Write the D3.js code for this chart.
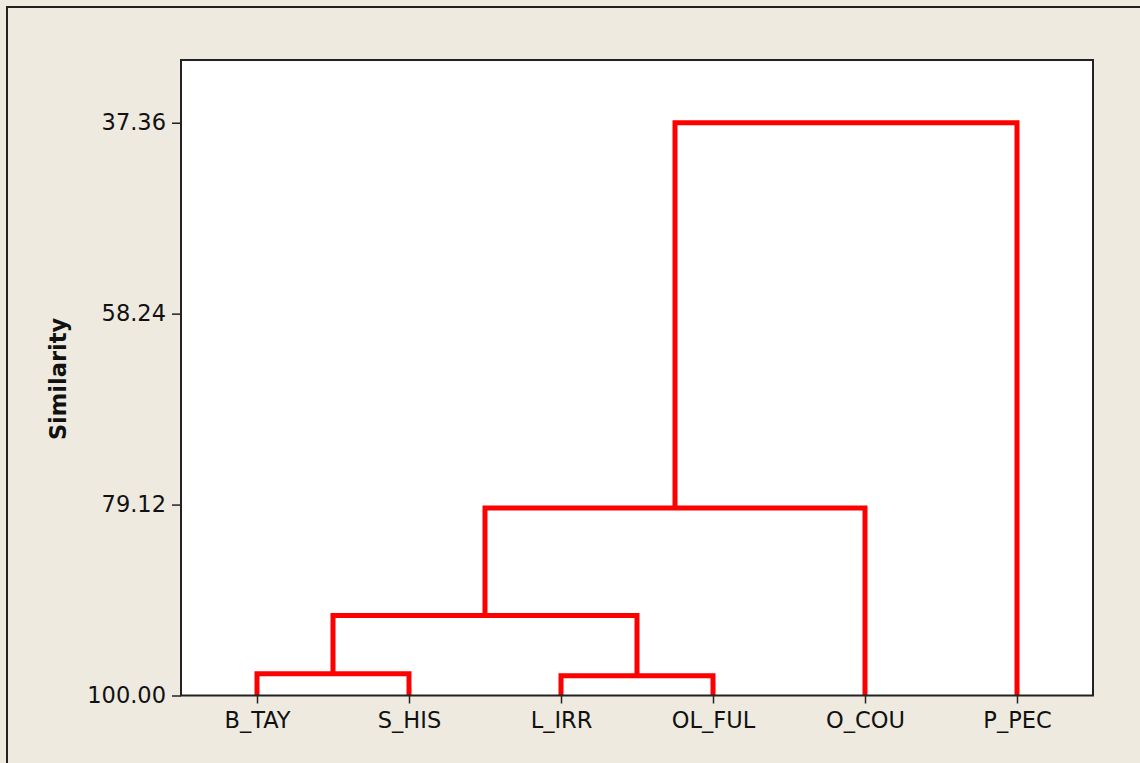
<!DOCTYPE html>
<html>
<head>
<meta charset="utf-8">
<script src="https://cdn.jsdelivr.net/npm/d3@7"></script>
<style>
  html, body { margin: 0; padding: 0; background: #eeeae0; }
  svg { display: block; }
  text { font-family: "DejaVu Sans", sans-serif; fill: #111; }
</style>
</head>
<body>
<svg width="1140" height="763"></svg>
<script>
// leaves, left to right
var leaves = ["B_TAY", "S_HIS", "L_IRR", "OL_FUL", "O_COU", "P_PEC"];
// merges: [cluster a, cluster b, similarity]; new clusters get ids 6, 7, ...
var merges = [
  [0, 1, 97.63],
  [2, 3, 97.85],
  [6, 7, 91.25],
  [8, 4, 79.5],
  [9, 5, 37.36]
];
var yTicks = [37.36, 58.24, 79.12, 100.00];

var svg = d3.select("svg");
var width = 1140, height = 763;
var plotL = 181, plotR = 1093, plotT = 60, plotB = 695.5;

svg.append("rect")
    .attr("width", width).attr("height", height)
    .attr("fill", "#eeeae0");

// outer frame (only top and left edges are visible)
svg.append("path")
    .attr("d", "M7," + (height + 2) + "V7H" + (width + 2))
    .attr("fill", "none")
    .attr("stroke", "#222")
    .attr("stroke-width", 2);

svg.append("rect")
    .attr("x", plotL).attr("y", plotT)
    .attr("width", plotR - plotL).attr("height", plotB - plotT)
    .attr("fill", "#fff");

var x = d3.scalePoint().domain(leaves).range([plotL, plotR]).padding(0.5);
var y = d3.scaleLinear().domain([100, 30.5]).range([plotB, plotT]);

// node positions
var nodes = leaves.map(function(d) { return {x: x(d), h: 100}; });
merges.forEach(function(m) {
  var a = nodes[m[0]], b = nodes[m[1]];
  nodes.push({x: (a.x + b.x) / 2, h: m[2], a: a, b: b});
});

svg.append("g")
  .selectAll("path")
  .data(nodes.filter(function(d) { return d.a; }))
  .enter().append("path")
    .attr("d", function(d) {
      return "M" + d.a.x + "," + y(d.a.h) +
             "V" + y(d.h) + "H" + d.b.x + "V" + y(d.b.h);
    })
    .attr("fill", "none")
    .attr("stroke", "#ff0000")
    .attr("stroke-width", 5)
    .attr("stroke-linejoin", "miter");

// axes
var yAxis = d3.axisLeft(y).tickValues(yTicks)
    .tickFormat(d3.format(".2f")).tickSize(9).tickPadding(6);
var gy = svg.append("g").attr("transform", "translate(" + plotL + ",0)").call(yAxis);
gy.select(".domain").remove();
gy.selectAll("line").attr("stroke", "#222").attr("stroke-width", 1.5);
gy.selectAll("text").attr("font-size", 22.5).attr("fill", "#111")
    .attr("font-family", "DejaVu Sans, sans-serif");

var xAxis = d3.axisBottom(x).tickSize(8).tickPadding(9);
var gx = svg.append("g").attr("transform", "translate(0," + plotB + ")").call(xAxis);
gx.select(".domain").remove();
gx.selectAll("line").attr("stroke", "#222").attr("stroke-width", 1.5);
gx.selectAll("text").attr("font-size", 22.5).attr("fill", "#111")
    .attr("font-family", "DejaVu Sans, sans-serif");

// plot frame
svg.append("rect")
    .attr("x", plotL).attr("y", plotT)
    .attr("width", plotR - plotL).attr("height", plotB - plotT)
    .attr("fill", "none")
    .attr("stroke", "#222")
    .attr("stroke-width", 2);

svg.append("text")
    .attr("transform", "translate(66,379) rotate(-90)")
    .attr("text-anchor", "middle")
    .attr("font-size", 22.5)
    .attr("font-weight", "bold")
    .text("Similarity");
</script>
</body>
</html>
